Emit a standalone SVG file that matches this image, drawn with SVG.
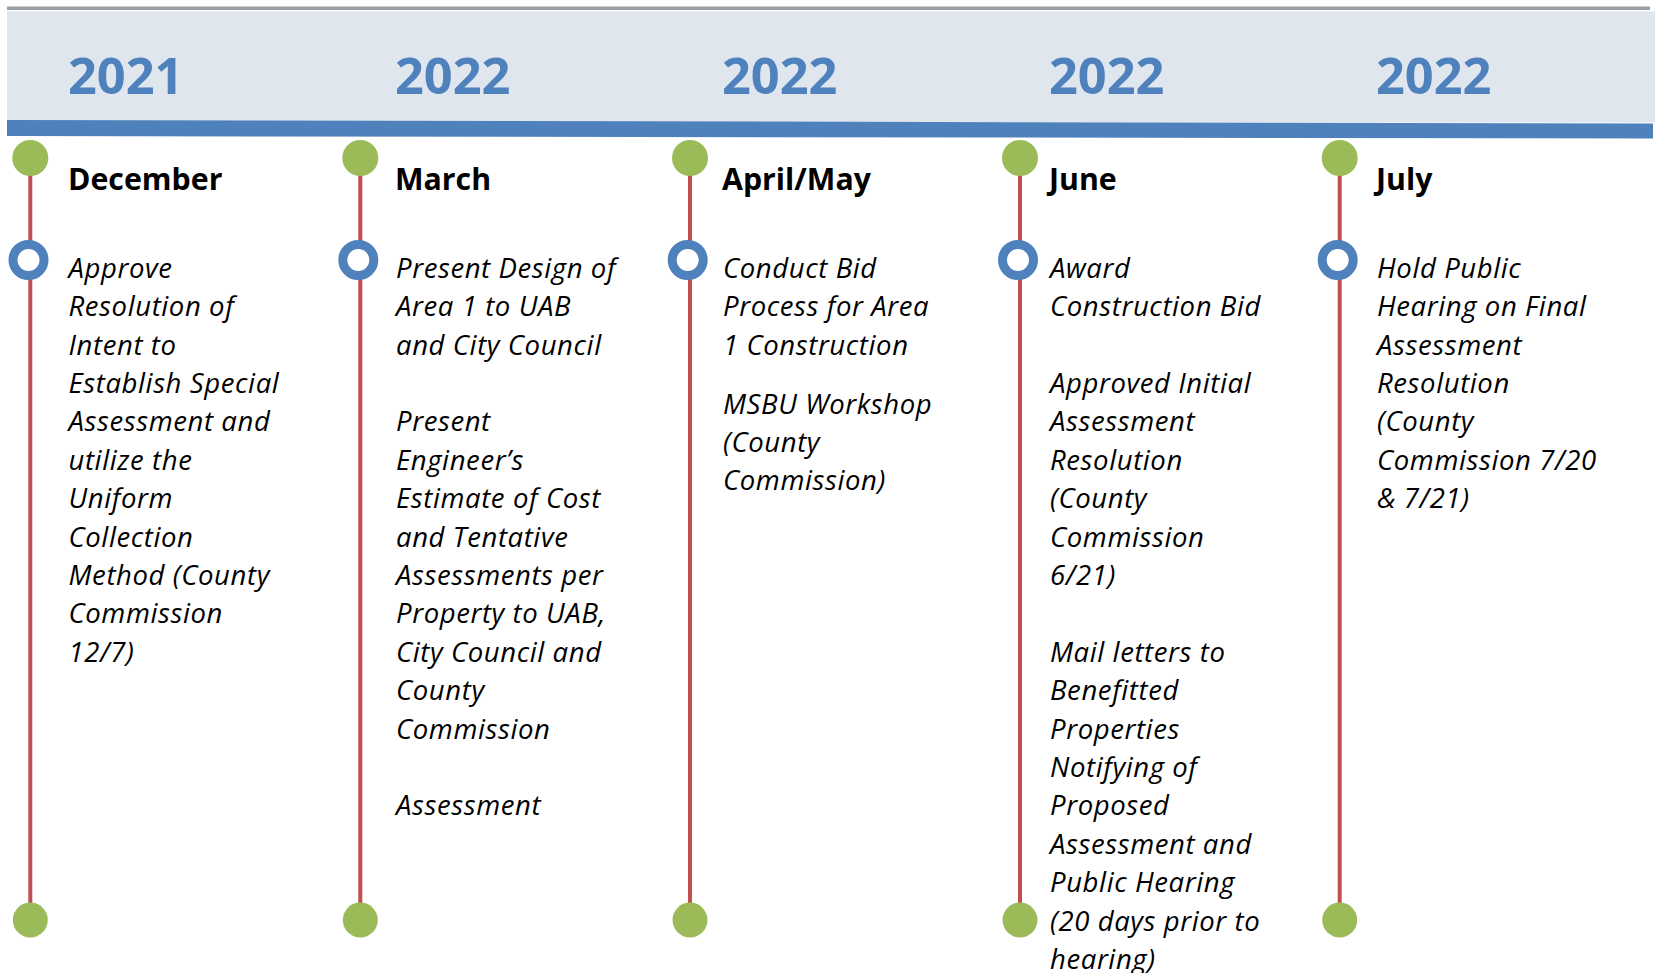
<svg xmlns="http://www.w3.org/2000/svg" width="1655" height="973" viewBox="0 0 1655 973">
<style>
.year{font-family:"Open Sans","Noto Sans",sans-serif;font-weight:700;font-size:50.5px;fill:#4F81BD}
.month{font-family:"Open Sans","Noto Sans",sans-serif;font-weight:700;font-size:30.3px;fill:#000}
.body{font-family:"Open Sans","Noto Sans",sans-serif;font-style:italic;font-size:27.5px;letter-spacing:0.6px;fill:#000}
.stem{stroke:#C0504D;stroke-width:4}
.dot{fill:#9BBB59}
.ring{fill:#fff;stroke:#4F81BD;stroke-width:9}
</style>
<rect width="1655" height="973" fill="#fff"/>
<g id="header">
<rect x="7" y="6.5" width="1643" height="3.5" fill="#9AA0A6"/>
<rect x="7" y="11.5" width="1648" height="111" fill="#DFE6EE"/>
<polygon points="7,120 1653,123.5 1653,138.5 7,136" fill="#4F81BD"/>
<text class="year" x="68" y="94">2021</text>
<text class="year" x="395" y="94">2022</text>
<text class="year" x="722" y="94">2022</text>
<text class="year" x="1049" y="94">2022</text>
<text class="year" x="1376" y="94">2022</text>
</g>
<g id="connectors">
<line class="stem" x1="30.3" y1="158" x2="30.3" y2="920"/>
<line class="stem" x1="360.3" y1="158" x2="360.3" y2="920"/>
<line class="stem" x1="690" y1="158" x2="690" y2="920"/>
<line class="stem" x1="1020" y1="158" x2="1020" y2="920"/>
<line class="stem" x1="1339.7" y1="158" x2="1339.7" y2="920"/>
</g>
<g id="col-december">
<circle class="dot" cx="30.3" cy="158" r="18"/>
<circle class="ring" cx="28.5" cy="260" r="15.5"/>
<circle class="dot" cx="30.3" cy="920" r="17.5"/>
<text class="month" x="68" y="189.5">December</text>
<text class="body" x="68.5" y="277.8">
<tspan x="68.5" dy="0">Approve</tspan>
<tspan x="68.5" dy="38.4">Resolution of</tspan>
<tspan x="68.5" dy="38.4">Intent to</tspan>
<tspan x="68.5" dy="38.4">Establish Special</tspan>
<tspan x="68.5" dy="38.4">Assessment and</tspan>
<tspan x="68.5" dy="38.4">utilize the</tspan>
<tspan x="68.5" dy="38.4">Uniform</tspan>
<tspan x="68.5" dy="38.4">Collection</tspan>
<tspan x="68.5" dy="38.4">Method (County</tspan>
<tspan x="68.5" dy="38.4">Commission</tspan>
<tspan x="68.5" dy="38.4">12/7)</tspan>
</text>
</g>
<g id="col-march">
<circle class="dot" cx="360.3" cy="158" r="18"/>
<circle class="ring" cx="358.3" cy="260" r="15.5"/>
<circle class="dot" cx="360.3" cy="920" r="17.5"/>
<text class="month" x="395" y="189.5">March</text>
<text class="body" x="396" y="277.8">
<tspan x="396" dy="0">Present Design of</tspan>
<tspan x="396" dy="38.4">Area 1 to UAB</tspan>
<tspan x="396" dy="38.4">and City Council</tspan>
<tspan x="396" dy="76.8">Present</tspan>
<tspan x="396" dy="38.4">Engineer’s</tspan>
<tspan x="396" dy="38.4">Estimate of Cost</tspan>
<tspan x="396" dy="38.4">and Tentative</tspan>
<tspan x="396" dy="38.4">Assessments per</tspan>
<tspan x="396" dy="38.4">Property to UAB,</tspan>
<tspan x="396" dy="38.4">City Council and</tspan>
<tspan x="396" dy="38.4">County</tspan>
<tspan x="396" dy="38.4">Commission</tspan>
<tspan x="396" dy="76.8">Assessment</tspan>
</text>
</g>
<g id="col-aprilmay">
<circle class="dot" cx="690" cy="158" r="18"/>
<circle class="ring" cx="687.7" cy="260" r="15.5"/>
<circle class="dot" cx="690" cy="920" r="17.5"/>
<text class="month" x="722" y="189.5">April/May</text>
<text class="body" x="723" y="277.8">
<tspan x="723" dy="0">Conduct Bid</tspan>
<tspan x="723" dy="38.4">Process for Area</tspan>
<tspan x="723" dy="38.4">1 Construction</tspan>
<tspan x="723" dy="59">MSBU Workshop</tspan>
<tspan x="723" dy="38.4">(County</tspan>
<tspan x="723" dy="38.4">Commission)</tspan>
</text>
</g>
<g id="col-june">
<circle class="dot" cx="1020" cy="158" r="18"/>
<circle class="ring" cx="1018" cy="260" r="15.5"/>
<circle class="dot" cx="1020" cy="920" r="17.5"/>
<text class="month" x="1049" y="189.5">June</text>
<text class="body" x="1050" y="277.8">
<tspan x="1050" dy="0">Award</tspan>
<tspan x="1050" dy="38.4">Construction Bid</tspan>
<tspan x="1050" dy="76.8">Approved Initial</tspan>
<tspan x="1050" dy="38.4">Assessment</tspan>
<tspan x="1050" dy="38.4">Resolution</tspan>
<tspan x="1050" dy="38.4">(County</tspan>
<tspan x="1050" dy="38.4">Commission</tspan>
<tspan x="1050" dy="38.4">6/21)</tspan>
<tspan x="1050" dy="76.8">Mail letters to</tspan>
<tspan x="1050" dy="38.4">Benefitted</tspan>
<tspan x="1050" dy="38.4">Properties</tspan>
<tspan x="1050" dy="38.4">Notifying of</tspan>
<tspan x="1050" dy="38.4">Proposed</tspan>
<tspan x="1050" dy="38.4">Assessment and</tspan>
<tspan x="1050" dy="38.4">Public Hearing</tspan>
<tspan x="1050" dy="38.4">(20 days prior to</tspan>
<tspan x="1050" dy="38.4">hearing)</tspan>
</text>
</g>
<g id="col-july">
<circle class="dot" cx="1339.7" cy="158" r="18"/>
<circle class="ring" cx="1337.7" cy="260" r="15.5"/>
<circle class="dot" cx="1339.7" cy="920" r="17.5"/>
<text class="month" x="1376" y="189.5">July</text>
<text class="body" x="1377" y="277.8">
<tspan x="1377" dy="0">Hold Public</tspan>
<tspan x="1377" dy="38.4">Hearing on Final</tspan>
<tspan x="1377" dy="38.4">Assessment</tspan>
<tspan x="1377" dy="38.4">Resolution</tspan>
<tspan x="1377" dy="38.4">(County</tspan>
<tspan x="1377" dy="38.4">Commission 7/20</tspan>
<tspan x="1377" dy="38.4">&amp; 7/21)</tspan>
</text>
</g>
</svg>
